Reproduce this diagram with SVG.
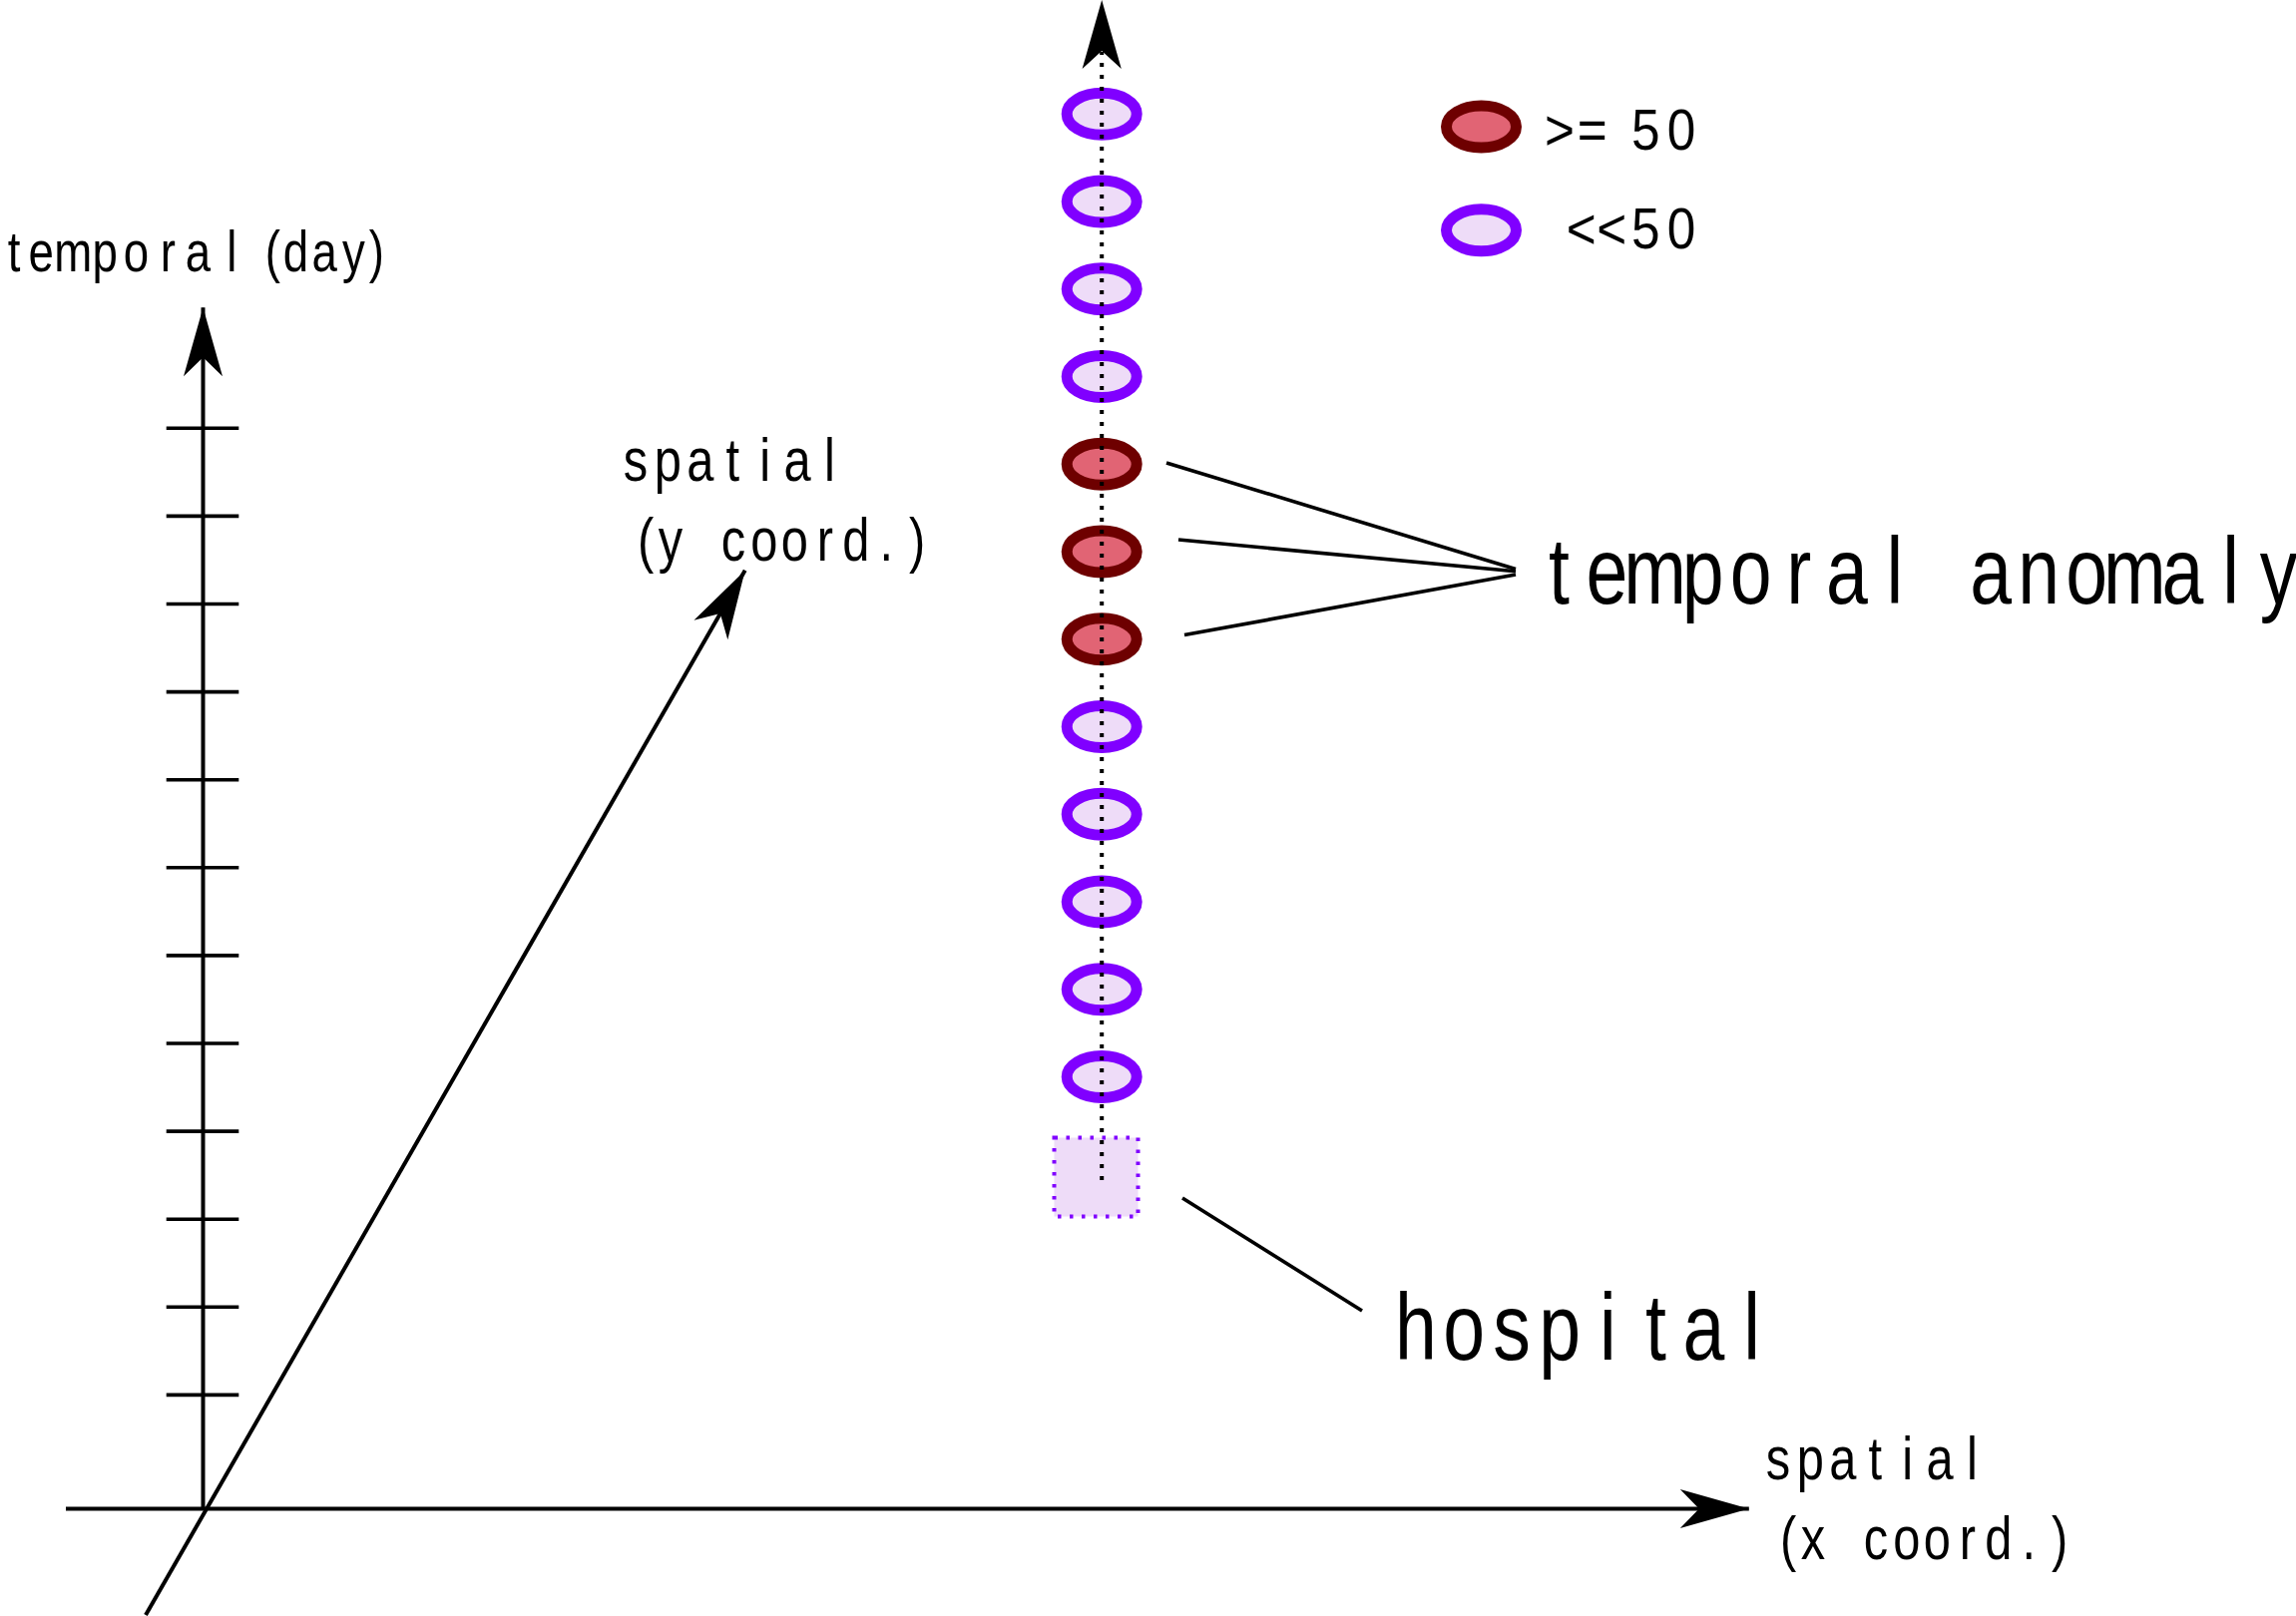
<svg xmlns="http://www.w3.org/2000/svg" width="2301" height="1620" viewBox="0 0 2301 1620">
<style>
.lbl{font-family:"Liberation Sans",Arial,sans-serif;fill:#000;text-anchor:middle}
.ax{stroke:#000;stroke-width:4;fill:none}
.tick{stroke:#000;stroke-width:3.6;fill:none}
.lead{stroke:#000;stroke-width:3.6;fill:none}
.lo{fill:#eedcf8;stroke:#8000ff;stroke-width:11}
.hi{fill:#e16474;stroke:#6e0000;stroke-width:11}
.dots{stroke:#000;stroke-width:4;stroke-dasharray:4 8;fill:none}
</style>
<defs>
<marker id="arr" markerUnits="userSpaceOnUse" viewBox="-70 -25 80 50" markerWidth="80" markerHeight="50" refX="0" refY="0" orient="auto" overflow="visible">
<path d="M0 0 L-69 -19.5 L-50 0 L-69 19.5 Z" fill="#000"/>
</marker>
</defs>
<rect width="2301" height="1620" fill="#fff"/>

<g id="axes">
<path class="ax" d="M66 1512.5 H1752.8" marker-end="url(#arr)"/>
<path class="ax" d="M203.5 1512.5 V308.3" marker-end="url(#arr)"/>
<path class="ax" d="M146 1619 L746.7 571.7" marker-end="url(#arr)"/>
<g id="ticks">
<path class="tick" d="M166.7 429.3H239.3M166.7 517.4H239.3M166.7 605.5H239.3M166.7 693.6H239.3M166.7 781.7H239.3M166.7 869.8H239.3M166.7 957.9H239.3M166.7 1046H239.3M166.7 1134.1H239.3M166.7 1222.2H239.3M166.7 1310.3H239.3M166.7 1398.4H239.3"/>
</g>
</g>

<g id="hospital-node">
<rect x="1056.5" y="1140.5" width="84" height="79" fill="#eedcf8" stroke="#8000ff" stroke-width="4" stroke-dasharray="3.5 8.5"/>
</g>

<g id="day-nodes">
<ellipse id="d12" class="lo" cx="1104.2" cy="114.3" rx="35" ry="21"/>
<ellipse id="d11" class="lo" cx="1104.2" cy="202" rx="35" ry="21"/>
<ellipse id="d10" class="lo" cx="1104.2" cy="289.8" rx="35" ry="21"/>
<ellipse id="d9" class="lo" cx="1104.2" cy="377.5" rx="35" ry="21"/>
<ellipse id="d8" class="hi" cx="1104.2" cy="465.3" rx="35" ry="21"/>
<ellipse id="d7" class="hi" cx="1104.2" cy="553" rx="35" ry="21"/>
<ellipse id="d6" class="hi" cx="1104.2" cy="640.8" rx="35" ry="21"/>
<ellipse id="d5" class="lo" cx="1104.2" cy="728.5" rx="35" ry="21"/>
<ellipse id="d4" class="lo" cx="1104.2" cy="816.3" rx="35" ry="21"/>
<ellipse id="d3" class="lo" cx="1104.2" cy="904" rx="35" ry="21"/>
<ellipse id="d2" class="lo" cx="1104.2" cy="991.8" rx="35" ry="21"/>
<ellipse id="d1" class="lo" cx="1104.2" cy="1079.5" rx="35" ry="21"/>
</g>

<g id="connectors">
<path class="dots" d="M1104.2 1183 V52"/>
<path d="M1104.2 0 L1084.6 69 L1104.2 51 L1123.8 69 Z" fill="#000"/>
<path class="lead" d="M1169 464 L1519 570.5"/>
<path class="lead" d="M1181 541 L1519 572.8"/>
<path class="lead" d="M1187 636.6 L1519 575.9"/>
<path class="lead" d="M1185 1201 L1365 1314"/>
</g>

<g id="legend">
<g id="legend-high">
<ellipse class="hi" cx="1484.5" cy="127" rx="35" ry="21"/>
<text class="lbl" font-size="57" transform="translate(1563 150) scale(0.9 1)" x="0 36.3 65.6 95.9 135.6" y="0">&gt;= 50</text>
</g>
<g id="legend-low">
<ellipse class="lo" cx="1484.5" cy="230.8" rx="35" ry="21"/>
<text class="lbl" font-size="57" transform="translate(1584.7 249) scale(0.9 1)" x="0 34 71.8 111.4" y="0">&lt;&lt;50</text>
</g>
</g>

<g id="label-temporal-day">
<text class="lbl" font-size="57" transform="translate(14 271.7) scale(0.8 1)" x="0 34.1 74.1 114.1 152.9 192.9 230.4 272.9 324.1 352.9 389.1 425.4 454.1" y="0">temporal(day)</text>
</g>

<g id="label-spatial-y">
<text class="lbl" font-size="61" transform="translate(637 481.7) scale(0.8 1)" x="0 40.5 81 121.5 162 202.5 243" y="0">spatial</text>
<text class="lbl" font-size="61" transform="translate(647 562.3) scale(0.8 1)" x="0 31.25 70 110 148.4 186.6 225 263.4 301.6 340" y="0">(y coord.)</text>
</g>

<g id="label-spatial-x">
<text class="lbl" font-size="61" transform="translate(1782 1483) scale(0.8 1)" x="0 40.5 81 121.5 162 202.5 243" y="0">spatial</text>
<text class="lbl" font-size="61" transform="translate(1792 1563) scale(0.8 1)" x="0 31.25 70 110 148.4 186.6 225 263.4 301.6 340" y="0">(x coord.)</text>
</g>

<g id="label-temporal-anomaly">
<text class="lbl" font-size="94" transform="translate(1562.4 605) scale(0.8 1)" x="0 60.1 120.2 180.3 240.4 300.5 360.6 420.7 480.8 540.9 601 661.1 721.2 781.3 841.4 901.5" y="0">temporal anomaly</text>
</g>

<g id="label-hospital">
<text class="lbl" font-size="94" transform="translate(1419 1363.3) scale(0.8 1)" x="0 60.1 120.2 180.3 240.4 300.5 360.6 420.7" y="0">hospital</text>
</g>
</svg>
